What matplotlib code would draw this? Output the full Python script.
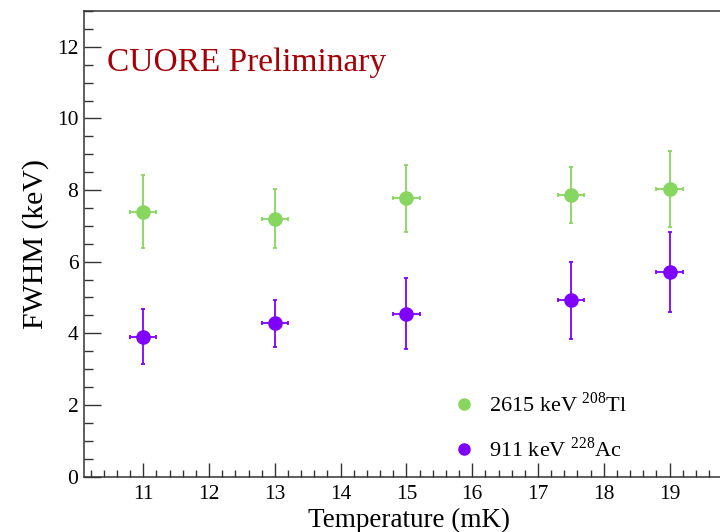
import numpy as np
import matplotlib
matplotlib.use("Agg")
import matplotlib.pyplot as plt
from matplotlib.lines import Line2D
from matplotlib.ticker import MultipleLocator

plt.rcParams['font.family'] = ['Liberation Serif', 'DejaVu Serif']
plt.rcParams['mathtext.fontset'] = 'custom'
plt.rcParams['mathtext.rm'] = 'Liberation Serif'

# data
temperature = [11, 13, 15, 17.5, 19]
temp_err = [0.2, 0.2, 0.2, 0.2, 0.2]

fwhm_tl = [7.39, 7.20, 7.77, 7.85, 8.02]
err_tl = [1.02, 0.83, 0.93, 0.78, 1.06]

fwhm_ac = [3.90, 4.28, 4.54, 4.92, 5.71]
err_ac = [0.77, 0.66, 0.99, 1.08, 1.11]

label_tl = r'2615 keV $^{\mathrm{208}}$Tl'
label_ac = r'911 keV $^{\mathrm{228}}$Ac'

green = '#87d65f'
purple = '#7f00ff'

fig = plt.figure(figsize=(7.2, 5.32), dpi=100)
# right part of the frame runs past the picture edge, as in the original
ax = fig.add_axes([0.1167, 0.1043, 0.9028, 0.875])

for y, e, c in [(fwhm_tl, err_tl, green), (fwhm_ac, err_ac, purple)]:
    ax.errorbar(temperature, y, yerr=e, xerr=temp_err, fmt='o', color=c,
                ms=9.5, elinewidth=1.3, capsize=1.6, capthick=1.3,
                ecolor=c, zorder=3)

ax.set_xlim(10.1, 19.98)
ax.set_ylim(0, 13)
ax.xaxis.set_major_locator(MultipleLocator(1))
ax.xaxis.set_minor_locator(MultipleLocator(0.2))
ax.yaxis.set_major_locator(MultipleLocator(2))
ax.yaxis.set_minor_locator(MultipleLocator(0.5))
ax.tick_params(which='both', direction='in', top=False, right=False,
               labelsize=15.5, color='#333333', width=1.0)
ax.tick_params(axis='x', which='major', length=10, pad=6)
ax.tick_params(axis='x', which='minor', length=5)
ax.tick_params(axis='y', which='major', length=12, pad=4)
ax.tick_params(axis='y', which='minor', length=6.5)
for s in ax.spines.values():
    s.set_linewidth(1.1)
    s.set_color('#333333')

ax.set_xlabel('Temperature (mK)', fontsize=19.5, labelpad=3)
ax.set_ylabel('FWHM (keV)', fontsize=21.5, labelpad=6)

ax.text(0.035, 0.888, 'CUORE Preliminary', transform=ax.transAxes,
        fontsize=24, color='#a50008', va='center', ha='left')

handles = [Line2D([], [], ls='none', marker='o', ms=8, color=green),
           Line2D([], [], ls='none', marker='o', ms=8, color=purple)]
ax.legend(handles, [label_tl, label_ac], loc='upper left',
          bbox_to_anchor=(0.551, 0.205), frameon=False, fontsize=16,
          handlelength=1.0, handletextpad=0.6, labelspacing=0.9,
          borderpad=0)

fig.savefig('out.png', dpi=100)
